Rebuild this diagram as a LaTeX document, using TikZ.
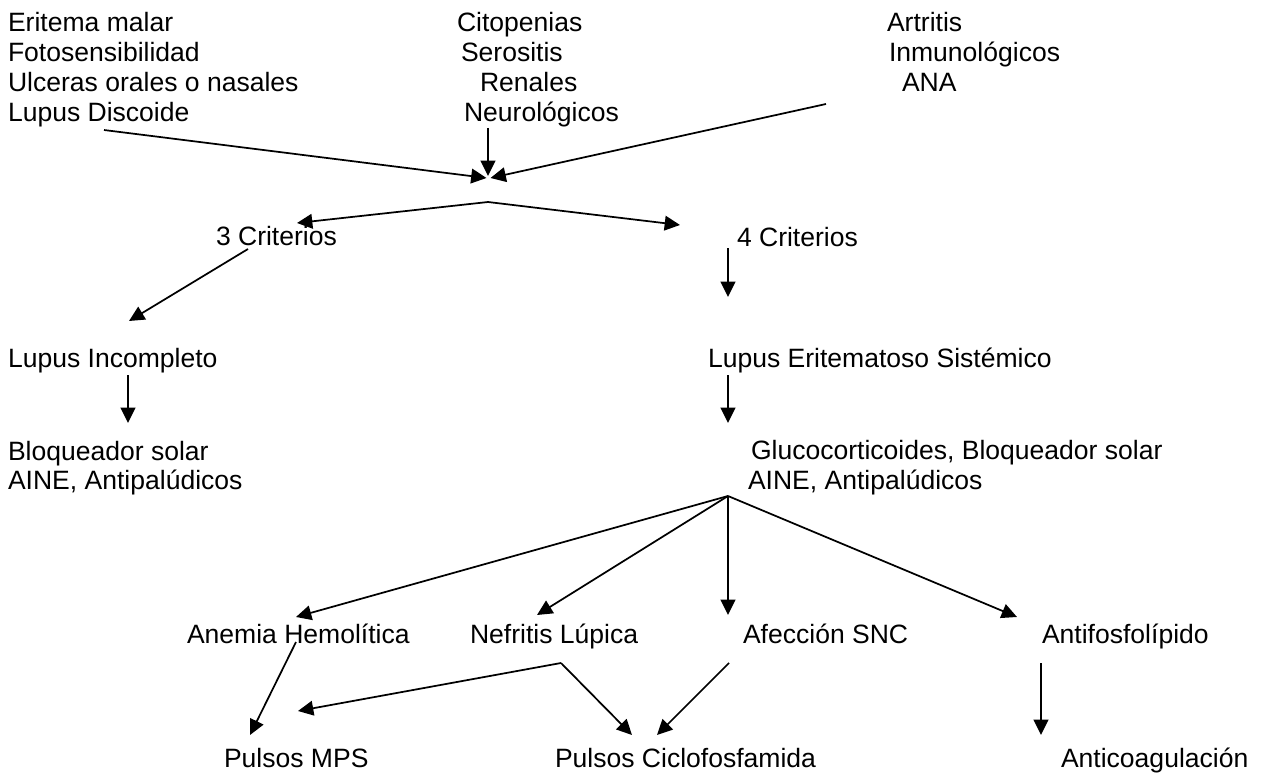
\documentclass[tikz,border=0pt]{standalone}
\usepackage{fontspec}
\setmainfont{Liberation Sans}
\usetikzlibrary{arrows.meta}
\begin{document}
\begin{tikzpicture}[x=0.75pt,y=-0.75pt,
  lbl/.style={anchor=base west,inner sep=0pt,outer sep=0pt,font=\fontsize{19.9}{22.9}\selectfont},
  arr/.style={line width=1.3pt,-{Triangle[length=11.5pt,width=11pt]}},
  ln/.style={line width=1.3pt}]
\useasboundingbox (0,0) rectangle (1261,774);
% texts
\node[lbl] (t1) at (8,31.5) {Eritema malar};
\node[lbl] (t2) at (8,61.5) {Fotosensibilidad};
\node[lbl] (t3) at (8,91.5) {Ulceras orales o nasales};
\node[lbl] (t4) at (8,121.5) {Lupus Discoide};
\node[lbl] (m1) at (457,31.5) {Citopenias};
\node[lbl] (m2) at (461,61.5) {Serositis};
\node[lbl] (m3) at (480,91.5) {Renales};
\node[lbl] (m4) at (464,121.5) {Neurológicos};
\node[lbl] (r1) at (887,31.5) {Artritis};
\node[lbl] (r2) at (889,61.5) {Inmunológicos};
\node[lbl] (r3) at (902,91.5) {ANA};
\node[lbl] (c3) at (216,245) {3 Criterios};
\node[lbl] (c4) at (737,246) {4 Criterios};
\node[lbl] (li) at (8,367) {Lupus Incompleto};
\node[lbl] (les) at (708,367) {Lupus Eritematoso Sistémico};
\node[lbl] (b1) at (8,460) {Bloqueador solar};
\node[lbl] (b2) at (8,489) {AINE, Antipalúdicos};
\node[lbl] (g1) at (751,459) {Glucocorticoides, Bloqueador solar};
\node[lbl] (g2) at (748,489) {AINE, Antipalúdicos};
\node[lbl] (ah) at (187,643) {Anemia Hemolítica};
\node[lbl] (nl) at (470,643) {Nefritis Lúpica};
\node[lbl] (snc) at (743,643) {Afección SNC};
\node[lbl] (af) at (1042,643) {Antifosfolípido};
\node[lbl] (mps) at (224,767) {Pulsos MPS};
\node[lbl] (cic) at (555,767) {Pulsos Ciclofosfamida};
\node[lbl] (ac) at (1061,767) {Anticoagulación};
% connector points
\coordinate (ldS) at (104,130);
\coordinate (neS) at (488,128);
\coordinate (anS) at (826,104);
\coordinate (jL) at (486.5,178);
\coordinate (jD) at (488,176);
\coordinate (jR) at (490.5,178);
\coordinate (j2) at (488,202);
\coordinate (c3T) at (297,223);
\coordinate (c4T) at (680,225);
\coordinate (c3S) at (248,249);
\coordinate (liT) at (129,321);
\coordinate (c4S) at (728,248);
\coordinate (lesT) at (728,297);
\coordinate (liS) at (128,375);
\coordinate (b1T) at (128,423);
\coordinate (lesS) at (728,375);
\coordinate (g1T) at (728,423);
\coordinate (j3) at (728,496);
\coordinate (ahT) at (296,617);
\coordinate (nlT) at (537,615);
\coordinate (sncT) at (728,615);
\coordinate (afT) at (1017,617);
\coordinate (ahS) at (296,642);
\coordinate (mpsT1) at (250,735);
\coordinate (nlS) at (561,663);
\coordinate (mpsT2) at (298,711);
\coordinate (cicT1) at (632,735);
\coordinate (sncS) at (729,663);
\coordinate (cicT2) at (657,735);
\coordinate (afS) at (1041,663);
\coordinate (acT) at (1041,735);
% connectors
\draw[arr] (ldS) -- (jL);
\draw[arr] (neS) -- (jD);
\draw[arr] (anS) -- (jR);
\draw[arr] (j2) -- (c3T);
\draw[arr] (j2) -- (c4T);
\draw[arr] (c3S) -- (liT);
\draw[arr] (c4S) -- (lesT);
\draw[arr] (liS) -- (b1T);
\draw[arr] (lesS) -- (g1T);
\draw[arr] (j3) -- (ahT);
\draw[arr] (j3) -- (nlT);
\draw[arr] (j3) -- (sncT);
\draw[arr] (j3) -- (afT);
\draw[arr] (ahS) -- (mpsT1);
\draw[arr] (nlS) -- (mpsT2);
\draw[arr] (nlS) -- (cicT1);
\draw[arr] (sncS) -- (cicT2);
\draw[arr] (afS) -- (acT);
\end{tikzpicture}
\end{document}
